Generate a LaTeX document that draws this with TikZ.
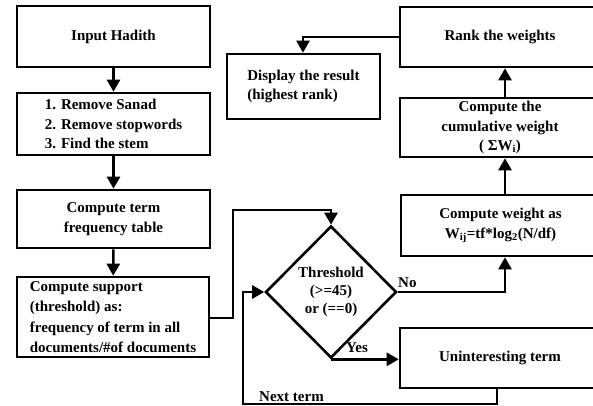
\documentclass[tikz,border=0pt]{standalone}
\usepackage{fontspec}
\setmainfont{Liberation Serif}
\usetikzlibrary{arrows.meta,shapes.geometric}
\begin{document}
\begin{tikzpicture}[x=1pt,y=-1pt,
  every node/.style={font=\fontsize{15}{19.5}\selectfont\bfseries},
  box/.style={draw,line width=2.6pt,rectangle,inner sep=0pt,align=center},
  arr/.style={line width=2.5pt,-{Triangle[width=13pt,length=12pt]}},
  lbl/.style={inner sep=0pt,font=\fontsize{15}{18}\selectfont\bfseries}]
\useasboundingbox (0,0) rectangle (593,406);
\node[box,minimum width=193pt,minimum height=61pt] (inp) at (113.5,36.5) {Input Hadith};
\node[box,minimum width=193pt,minimum height=62pt,align=left] (rem) at (113.5,124) {1. Remove Sanad\\2. Remove stopwords\\3. Find the stem};
\node[box,minimum width=193pt,minimum height=58pt] (tf) at (113.5,219) {Compute term\\frequency table};
\node[box,minimum width=192pt,minimum height=80pt,align=left,font=\fontsize{15}{20.5}\selectfont\bfseries] (sup) at (113,317) {Compute support\\(threshold) as:\\frequency of term in all\\documents/\#of documents};
\node[draw,line width=2.6pt,diamond,minimum width=131pt,minimum height=132pt,inner sep=0pt,align=center,font=\fontsize{15}{18}\selectfont\bfseries] (thr) at (331,292) {Threshold\\(>=45)\\or (==0)};
\node[box,minimum width=200pt,minimum height=60pt] (uni) at (500,358) {Uninteresting term};
\node[box,minimum width=199pt,minimum height=61pt] (cw) at (500.5,225.5) {Compute weight as\\W\textsubscript{ij}=tf*log\textsubscript{2}(N/df)};
\node[box,minimum width=200pt,minimum height=59pt] (cum) at (500,127.5) {Compute the\\cumulative weight\\( ΣW\textsubscript{i})};
\node[box,minimum width=200pt,minimum height=60pt] (rank) at (500,37) {Rank the weights};
\node[box,minimum width=153pt,minimum height=65pt,align=left] (disp) at (303.5,86.5) {Display the result\\(highest rank)};
\coordinate (s1) at (233,318);
\coordinate (s2) at (233,210);
\coordinate (n1) at (505,293);
\coordinate (l1) at (497,404);
\coordinate (l2) at (243,404);
\coordinate (r1) at (303,37);
\draw[arr] (sup.east |- s1) -- (s1) -- (s2) -- (thr.north |- s2) -- (thr.north);
\draw[arr] (inp) -- (rem);
\draw[arr] (rem) -- (tf);
\draw[arr] (tf) -- (sup);
\draw[arr] (thr.east) -- (thr.east -| n1) -- (n1 |- cw.south);
\draw[arr] (thr.south) -- (uni.west |- thr.south);
\draw[arr] (l1 |- uni.south) -- (l1) -- (l2) -- (l2 |- thr.west) -- (thr.west);
\draw[arr] (cw.north -| n1) -- (cum.south -| n1);
\draw[arr] (cum.north -| n1) -- (rank.south -| n1);
\draw[arr] (rank.west |- r1) -- (r1) -- (r1 |- disp.north);
\node[lbl,anchor=south west] (no) at (398,288) {No};
\node[lbl,anchor=south] (yes) at (357,353) {Yes};
\node[lbl,anchor=south west] (nt) at (259,402) {Next term};
\end{tikzpicture}
\end{document}
